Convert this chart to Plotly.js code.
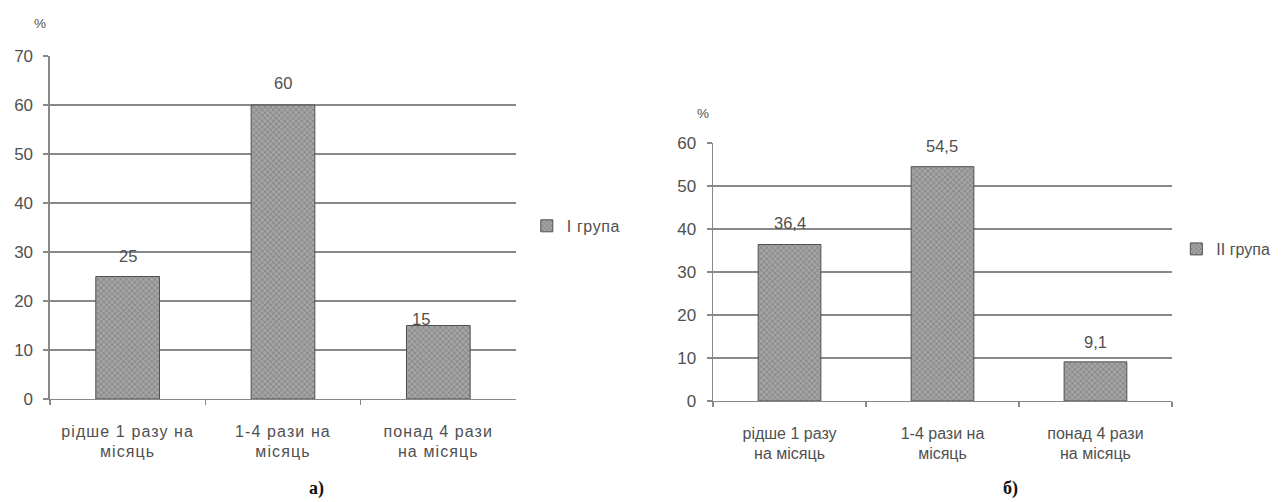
<!DOCTYPE html>
<html>
<head>
<meta charset="utf-8">
<script src="https://cdn.plot.ly/plotly-3.0.1.min.js"></script>
<style>
  html, body { margin: 0; padding: 0; background: #fff; }
  #chart { width: 1288px; height: 502px; }
  #chart .xtick text { letter-spacing: 1.1px; }
  #chart .legendtext { letter-spacing: 0.6px; }
</style>
</head>
<body>
<div id="chart"></div>
<script>
// Frequency categories (group I and group II panels)
const categoriesA = ["рідше 1 разу на<br>місяць", "1-4 рази на<br>місяць", "понад 4 рази<br>на місяць"];
const categoriesB = ["рідше 1 разу<br>на місяць", "1-4 рази на<br>місяць", "понад 4 рази<br>на місяць"];
const valuesA = [25, 60, 15];
const valuesB = [36.4, 54.5, 9.1];
const seriesNameA = "I група";
const seriesNameB = "II група";
const ticksA = [0, 10, 20, 30, 40, 50, 60, 70];
const ticksB = [0, 10, 20, 30, 40, 50, 60];

// value-label offsets above each bar (pixels)
const labelShiftA = [{ x: 0, y: 21 }, { x: 0, y: 22 }, { x: -17, y: 6 }];
const labelShiftB = [{ x: 0, y: 21 }, { x: 0, y: 21 }, { x: 0, y: 20 }];

const fmt = v => String(v).replace('.', ',');

const barStyle = {
  color: '#a4a4a4',
  pattern: { shape: 'x', fillmode: 'overlay', fgcolor: '#4d4d4d', size: 4, solidity: 0.3 },
  line: { color: '#505050', width: 1 }
};
const baseFont = 'Arial, "Liberation Sans", sans-serif';
const textColor = '#505050';

const traces = [
  {
    type: 'bar', x: categoriesA, y: valuesA, name: seriesNameA,
    width: 0.41, marker: barStyle,
    xaxis: 'x', yaxis: 'y', legend: 'legend', hoverinfo: 'skip'
  },
  {
    type: 'bar', x: categoriesB, y: valuesB, name: seriesNameB,
    width: 0.41, marker: barStyle,
    xaxis: 'x2', yaxis: 'y2', legend: 'legend2', hoverinfo: 'skip'
  }
];

const tickFont = { family: baseFont, size: 16, color: textColor };

function xAxis(domain, anchor) {
  return {
    domain: domain, anchor: anchor, type: 'category',
    showline: true, linecolor: '#888', linewidth: 1.5,
    ticks: 'outside', tickson: 'boundaries', ticklen: 5, tickcolor: '#888', tickwidth: 1.5,
    showgrid: false, zeroline: false, tickfont: tickFont,
    ticklabelstandoff: 17, fixedrange: true
  };
}
function yAxis(domain, anchor, range, vals) {
  return {
    domain: domain, anchor: anchor, range: range,
    tickmode: 'array', tickvals: vals, ticktext: vals.map(String),
    showline: true, linecolor: '#888', linewidth: 1.5,
    ticks: 'outside', ticklen: 5, tickcolor: '#888', tickwidth: 1.5,
    showgrid: true, gridcolor: '#888', gridwidth: 1.5,
    zeroline: false, tickfont: { family: baseFont, size: 17, color: textColor },
    ticklabelstandoff: 7, fixedrange: true
  };
}

function valueLabels(cats, vals, shifts, xref, yref) {
  return vals.map((v, i) => ({
    x: cats[i], y: v, xref: xref, yref: yref, text: fmt(v),
    showarrow: false, xshift: shifts[i].x, yshift: shifts[i].y,
    xanchor: 'center', yanchor: 'middle',
    font: { family: baseFont, size: 16.5, color: textColor }
  }));
}

function paperText(text, px, py, font) {
  return {
    text: text, xref: 'paper', yref: 'paper', x: px / 1288, y: 1 - py / 502,
    xanchor: 'center', yanchor: 'middle', showarrow: false, font: font
  };
}

const legendFont = { family: baseFont, size: 16, color: textColor };
const captionFont = { family: '"Liberation Serif", "Times New Roman", serif', size: 18, color: '#111' };
const pctFont = { family: baseFont, size: 13.5, color: textColor };

const layout = {
  width: 1288, height: 502,
  margin: { l: 0, r: 0, t: 0, b: 0 },
  paper_bgcolor: '#fff', plot_bgcolor: '#fff',
  showlegend: true, bargap: 0.59,
  xaxis: xAxis([0.0388, 0.4006], 'y'),
  yaxis: yAxis([0.2052, 0.8884], 'x', [0, 70], ticksA),
  xaxis2: xAxis([0.5536, 0.9099], 'y2'),
  yaxis2: yAxis([0.2012, 0.7151], 'x2', [0, 60], ticksB),
  legend: {
    x: 0.409, y: 0.55, xanchor: 'left', yanchor: 'middle',
    font: legendFont, bgcolor: 'rgba(0,0,0,0)',
    itemwidth: 30, tracegroupgap: 0
  },
  legend2: {
    x: 0.9133, y: 0.504, xanchor: 'left', yanchor: 'middle',
    font: legendFont, bgcolor: 'rgba(0,0,0,0)',
    itemwidth: 30, tracegroupgap: 0
  },
  annotations: [
    ...valueLabels(categoriesA, valuesA, labelShiftA, 'x', 'y'),
    ...valueLabels(categoriesB, valuesB, labelShiftB, 'x2', 'y2'),
    paperText('%', 40, 24, pctFont),
    paperText('%', 703, 113, pctFont),
    paperText('<b>а)</b>', 316, 488, captionFont),
    paperText('<b>б)</b>', 1010, 488, captionFont)
  ]
};

Plotly.newPlot('chart', traces, layout, { staticPlot: true, displayModeBar: false });
</script>
</body>
</html>
